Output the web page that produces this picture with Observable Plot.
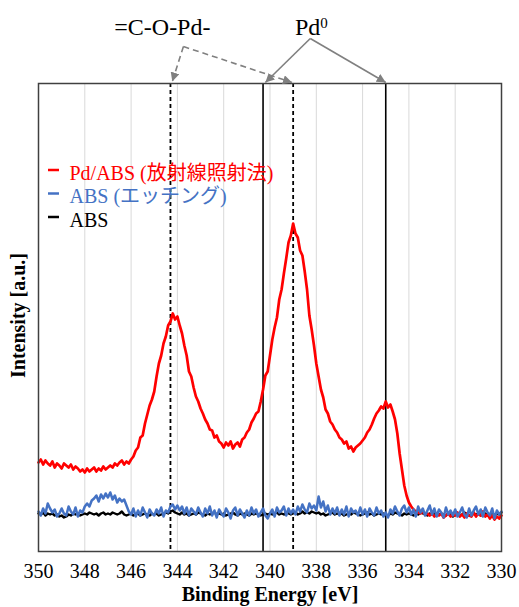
<!DOCTYPE html>
<html><head><meta charset="utf-8">
<script src="https://cdn.jsdelivr.net/npm/d3@7"></script>
<script src="https://cdn.jsdelivr.net/npm/@observablehq/plot@0.6"></script>
<style>body{margin:0;background:#fff}</style>
</head><body><div id="chart"></div>
<script>
// Sampling grid (binding energy, eV), high to low
const energyStart = 350, energyStep = 0.1;

// Intensities (arbitrary units), 350.0 -> 330.0 eV every 0.1 eV
const pdAbsRadiation = [
 89,92,87,91,88,86,90,84,88,86,
 83,88,86,84,87,82,85,83,80,82,
 79,83,80,82,84,80,83,81,85,82,
 84,86,84,88,86,89,91,87,90,88,
 92,95,101,104,114,116,128,137,146,152,
 160,175,188,196,208,215,226,230,238,232,
 235,226,218,206,196,180,175,164,155,150,
 143,138,132,128,122,121,114,116,110,108,
 104,109,106,110,103,107,109,105,112,114,
 119,122,129,133,138,140,150,162,176,180,
 196,212,224,234,252,262,278,293,309,316,
 328,318,314,301,296,280,262,236,222,206,
 188,175,162,154,142,138,130,127,122,119,
 114,112,108,110,103,105,100,104,106,108,
 111,114,119,122,127,133,138,141,145,143,
 150,144,147,140,132,118,98,82,66,56,
 49,45,42,40,39,38,40,37,38,36,
 38,35,37,36,38,34,36,38,35,37,
 36,39,35,37,34,38,36,35,39,35,
 38,36,40,35,37,33,36,32,35,33,
 36
];
const absEtched = [
 40,36,43,38,48,43,39,42,35,38,
 43,38,36,45,40,37,44,35,41,39,
 45,48,45,51,53,56,50,57,53,58,
 54,59,52,56,49,53,50,52,46,40,
 37,43,35,41,36,44,39,34,42,38,
 36,42,38,44,35,41,39,45,47,42,
 46,41,45,38,44,36,43,40,37,44,
 39,35,43,38,45,36,41,34,42,38,
 35,43,39,33,41,44,36,42,38,34,
 41,36,44,38,42,35,39,43,36,33,
 38,42,35,44,39,41,45,36,43,38,
 42,37,45,40,47,42,39,48,43,46,
 41,55,44,50,40,46,37,43,38,44,
 36,42,37,45,35,43,39,41,36,44,
 37,42,35,43,39,36,44,38,41,35,
 39,34,42,38,45,40,36,43,46,39,
 44,37,42,35,45,39,43,36,41,46,
 37,43,35,42,39,34,44,37,41,36,
 42,35,39,44,37,34,43,36,41,45,
 37,42,35,44,39,36,43,33,41,37,
 40
];
const absPlain = [
 38,37,39,36,38,37,38,36,37,35,
 36,34,35,37,36,38,37,38,36,37,
 38,37,39,38,37,38,36,38,39,37,
 38,37,39,38,37,38,40,37,36,37,
 38,36,37,38,36,37,38,37,36,38,
 37,38,36,37,38,39,38,40,41,39,
 38,37,39,37,38,36,37,38,37,39,
 38,37,36,38,37,38,39,37,38,37,
 38,36,37,38,39,37,36,38,37,38,
 37,36,38,37,38,37,36,37,38,37,
 38,37,38,39,37,38,37,39,38,37,
 38,39,37,38,40,38,39,38,40,39,
 38,39,37,38,36,37,38,39,37,38,
 37,38,36,37,38,37,39,38,37,36,
 37,38,39,37,38,36,37,38,37,38,
 37,36,38,37,39,38,37,36,38,37,
 38,37,36,38,37,39,38,37,36,38,
 37,38,36,37,38,37,36,38,37,35,
 37,38,36,37,39,38,36,37,38,37,
 38,36,37,38,36,37,39,36,38,37,
 39
];

const xTicks = [350,348,346,344,342,340,338,336,334,332,330];
const seriesNames = ["Pd/ABS (放射線照射法)", "ABS (エッチング)", "ABS"];
const seriesColors = ["#ff0000", "#4472c4", "#000000"];

// Reference lines (eV)
const dashedLines = [344.3, 339.0];   // =C-O-Pd-
const solidLines = [340.3, 335.0];    // Pd0

// Annotation arrows (eV, intensity units; above the frame)
const dashedArrows = [
  {x1: 343.74, y1: 505, x2: 344.22, y2: 470},
  {x1: 343.74, y1: 505, x2: 339.05, y2: 469}
];
const solidArrows = [
  {x1: 338.26, y1: 513, x2: 340.2, y2: 469},
  {x1: 338.26, y1: 513, x2: 335.0, y2: 469}
];

const energies = pdAbsRadiation.map((_, i) => +(energyStart - i * energyStep).toFixed(1));
const toRows = vals => vals.map((v, i) => ({e: energies[i], v}));
const redRows = toRows(pdAbsRadiation);
const blueRows = toRows(absEtched);
const blackRows = toRows(absPlain);

const serif = "Liberation Serif";
const serifCJK = "Liberation Serif, Noto Sans CJK JP";
const T = {fontFamily: serif, lineAnchor: "middle", fill: "#000"};

const plot = Plot.plot({
  width: 519, height: 607,
  marginLeft: 38, marginRight: 18, marginTop: 83, marginBottom: 56,
  style: {fontFamily: serif, fontSize: "20px", background: "#fff", overflow: "visible"},
  x: {domain: [350, 330], label: null},
  y: {domain: [0, 468], axis: null, label: null},
  marks: [
    Plot.gridX(xTicks, {stroke: "#d9d9d9", strokeOpacity: 1, strokeWidth: 1}),
    Plot.ruleX(dashedLines, {stroke: "#000", strokeWidth: 1.8, strokeDasharray: "4,3"}),
    Plot.ruleX(solidLines, {stroke: "#000", strokeWidth: 1.6}),
    Plot.line(blackRows, {x: "e", y: "v", stroke: seriesColors[2], strokeWidth: 2.4}),
    Plot.line(redRows, {x: "e", y: "v", stroke: seriesColors[0], strokeWidth: 2.7}),
    Plot.line(blueRows, {x: "e", y: "v", stroke: seriesColors[1], strokeWidth: 2.5}),
    Plot.frame({stroke: "#404040", strokeWidth: 1.5}),
    Plot.axisX(xTicks, {tickSize: 0, tickPadding: 12, fontSize: 20, fontFamily: serif, label: null, tickFormat: d => String(d)}),
    Plot.text(["Binding Energy [eV]"], {...T, text: d => d, frameAnchor: "bottom", textAnchor: "middle", dy: 42.6, fontWeight: "bold", fontSize: 20}),
    Plot.text(["Intensity [a.u.]"], {...T, text: d => d, frameAnchor: "left", textAnchor: "middle", rotate: -90, dx: -19.5, dy: -2, fontWeight: "bold", fontSize: 20}),
    ...seriesNames.map((name, i) => Plot.text([name], {...T, fontFamily: serifCJK, text: d => d, frameAnchor: "top-left", dx: 31, dy: 90 + i * 23.5, textAnchor: "start", fill: seriesColors[i], fontSize: 20})),
    Plot.link(dashedArrows, {x1: "x1", y1: "y1", x2: "x2", y2: "y2", stroke: "#808080", strokeWidth: 1.6, strokeDasharray: "6,4"}),
    Plot.link(solidArrows, {x1: "x1", y1: "y1", x2: "x2", y2: "y2", stroke: "#808080", strokeWidth: 1.6}),
    Plot.text([{x: 344.65, y: 523.7, t: "=C-O-Pd-"}], {...T, x: "x", y: "y", text: "t", fontSize: 24}),
    Plot.text([{x: 337.83, y: 523.7, t: "Pd"}], {...T, x: "x", y: "y", text: "t", fontSize: 24, textAnchor: "end"}),
    Plot.text([{x: 337.83, y: 528.5, t: "0"}], {...T, x: "x", y: "y", text: "t", fontSize: 15, textAnchor: "start"})
  ]
});

const svg = d3.select(plot);
svg.attr("font-family", serif);

// Filled arrowheads on annotation links
svg.insert("defs", ":first-child").append("marker")
  .attr("id", "tri").attr("viewBox", "0 0 10 10").attr("refX", 10).attr("refY", 5)
  .attr("markerWidth", 9).attr("markerHeight", 9).attr("markerUnits", "userSpaceOnUse")
  .attr("orient", "auto")
  .append("path").attr("d", "M0,0L10,5L0,10Z").attr("fill", "#808080");
svg.selectAll('g[aria-label="link"] path').attr("marker-end", "url(#tri)");

// Legend line samples
const legendG = svg.append("g");
seriesColors.forEach((c, i) => {
  const yy = 83 + 87 + i * 23.5;
  legendG.append("line").attr("x1", 48).attr("x2", 59).attr("y1", yy).attr("y2", yy)
    .attr("stroke", c).attr("stroke-width", 2.5);
});

document.getElementById("chart").appendChild(plot);
</script>
</body></html>
